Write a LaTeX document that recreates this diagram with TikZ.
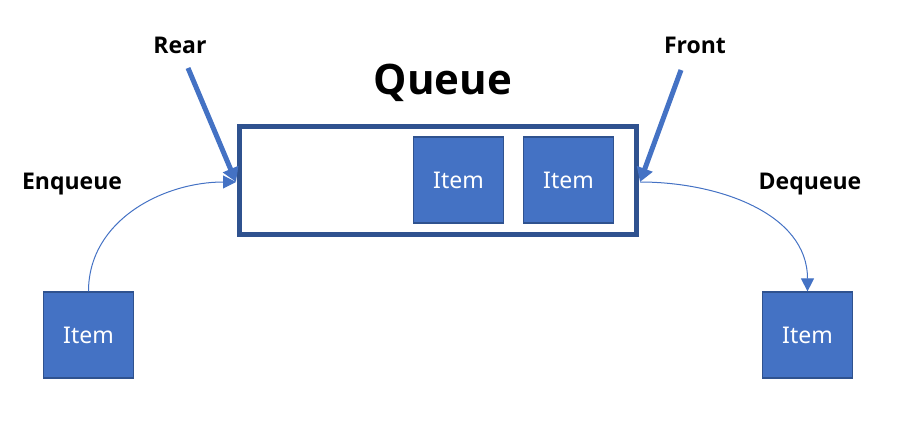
\documentclass[tikz,border=0pt]{standalone}
\usepackage{fontspec}
\setmainfont{Noto Sans}
\newfontfamily\lblfont{Open Sans}
\usetikzlibrary{arrows.meta}
\definecolor{itemblue}{HTML}{4472C4}
\definecolor{darkblue}{HTML}{2F528F}
\tikzset{
  itembox/.style={draw=darkblue, line width=1.2pt, fill=itemblue, text=white,
    minimum width=90pt, minimum height=86pt, inner sep=0pt,
    font=\fontsize{23}{25}\selectfont},
  lbl/.style={font=\lblfont\fontsize{23}{26}\selectfont\bfseries, inner sep=0pt},
  bigarrow/.style={draw=itemblue, line width=5pt, -{Triangle[length=14pt,width=16pt]}},
  thinarrow/.style={draw=itemblue, line width=1pt, -{Triangle[length=13pt,width=13pt]}}
}
\begin{document}
\begin{tikzpicture}[x=1pt,y=-1pt]
\useasboundingbox (0,0) rectangle (907,435);
% queue box
\node[draw=darkblue, line width=5pt, minimum width=397pt, minimum height=108pt, inner sep=0pt] (queue) at (438,181) {};
\node[itembox] (i1) at (458.5,180) {Item};
\node[itembox] (i2) at (568.5,180) {Item};
\node[itembox] (inL) at (88.5,335) {Item};
\node[itembox] (outR) at (807.5,335) {Item};
\node[font=\lblfont\fontsize{42}{46}\selectfont\bfseries, inner sep=0pt] (qtitle) at (443,83) {Queue};
\node[lbl] (rear) at (180,45) {Rear};
\node[lbl] (front) at (695,45) {Front};
\node[lbl] (enq) at (72,184) {Enqueue};
\node[lbl] (deq) at (810,184) {Dequeue};
\coordinate (rs) at (188,68);
\coordinate (fs) at (681,70);
\coordinate (lin) at (236,182);
\coordinate (rout) at (640,182);
\draw[bigarrow] (rs) -- (lin);
\draw[bigarrow] (fs) -- (rout);
\draw[thinarrow] (inL.north) to[out=90,in=180] (lin);
\draw[thinarrow] (rout) to[out=0,in=90] (outR.north);
\end{tikzpicture}
\end{document}
